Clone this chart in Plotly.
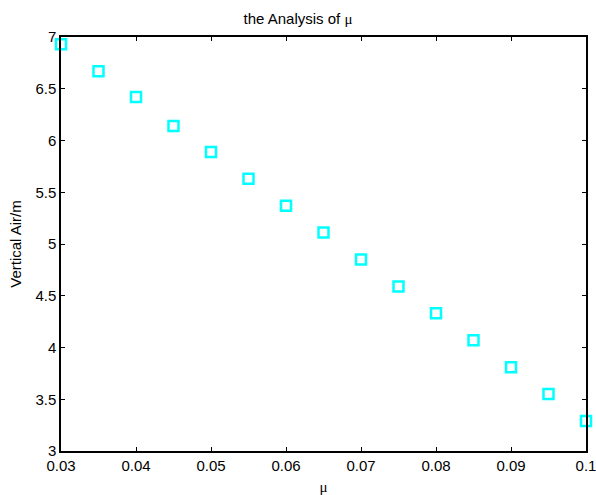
import plotly.graph_objects as go

mu = [0.03, 0.035, 0.04, 0.045, 0.05, 0.055, 0.06, 0.065, 0.07, 0.075, 0.08, 0.085, 0.09, 0.095, 0.1]
height = [6.93, 6.67, 6.42, 6.14, 5.89, 5.63, 5.37, 5.11, 4.85, 4.59, 4.33, 4.07, 3.81, 3.55, 3.29]

x_ticks = [0.03, 0.04, 0.05, 0.06, 0.07, 0.08, 0.09, 0.1]
x_tick_text = ["0.03", "0.04", "0.05", "0.06", "0.07", "0.08", "0.09", "0.1"]
y_ticks = [3, 3.5, 4, 4.5, 5, 5.5, 6, 6.5, 7]
y_tick_text = ["3", "3.5", "4", "4.5", "5", "5.5", "6", "6.5", "7"]

fig = go.Figure()
fig.add_trace(go.Scatter(
    x=mu, y=height, mode="markers",
    marker=dict(symbol="square-open", size=10, color="#00FFFF", line=dict(width=2.5, color="#00FFFF")),
    cliponaxis=False, showlegend=False,
))

axis_common = dict(
    showgrid=False, zeroline=False, showline=True, linecolor="black", linewidth=1.5,
    mirror="allticks", ticks="inside", ticklen=4, tickcolor="black", tickwidth=1,
    tickfont=dict(family="Liberation Sans, Arial", size=15, color="black"),
    automargin=False, ticklabeloverflow="allow",
)
fig.update_xaxes(range=[0.03, 0.1000001], tickvals=x_ticks, ticktext=x_tick_text,
                 title=dict(text="μ", font=dict(family="Liberation Serif, Times New Roman", size=15, color="black"), standoff=14),
                 **axis_common)
fig.update_yaxes(range=[3, 7], tickvals=y_ticks, ticktext=y_tick_text,
                 title=dict(text="Vertical Air/m", font=dict(family="Liberation Sans, Arial", size=15, color="black"), standoff=10),
                 **axis_common)

fig.update_layout(
    width=596, height=495,
    margin=dict(l=61, r=10, t=37, b=44),
    paper_bgcolor="white", plot_bgcolor="white",
    title=dict(text="the Analysis of <span style='font-family:Liberation Serif'>μ</span>", x=0.5, xanchor="center", y=0.963, yanchor="middle",
               font=dict(family="Liberation Sans, Arial", size=15, color="black")),
)

fig.write_html("out.html")
